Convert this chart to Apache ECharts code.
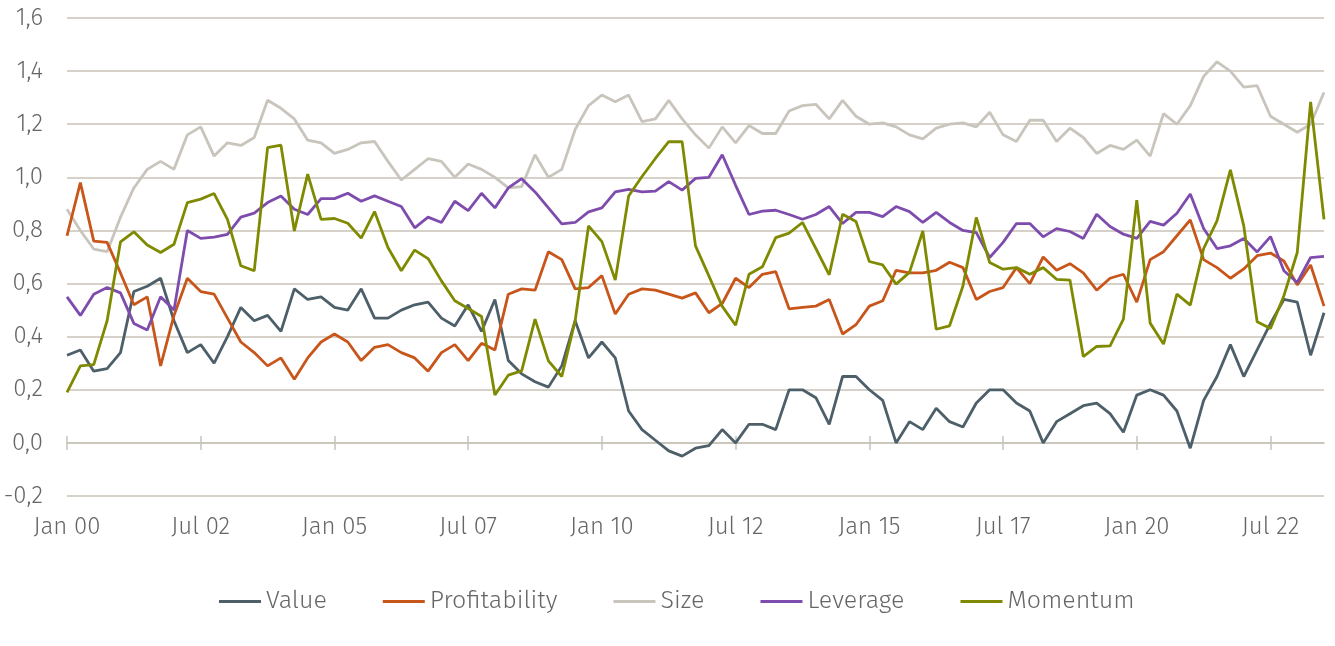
<!DOCTYPE html>
<html>
<head>
<meta charset="utf-8">
<script src="https://cdn.jsdelivr.net/npm/echarts@6/dist/echarts.min.js"></script>
<style>
    html, body { margin: 0; padding: 0; background: #fff; }
    #chart { width: 1335px; height: 646px; }
</style>
</head>
<body>
<div id="chart"></div>
<script>
// quarterly observations, Jan 00 .. Jul 23
const seriesNames = ['Value', 'Profitability', 'Size', 'Leverage', 'Momentum'];
const monthNames = ['Jan', 'Apr', 'Jul', 'Oct'];

const value = [
    0.33, 0.35, 0.27, 0.28, 0.34, 0.57, 0.59, 0.62, 0.46, 0.34,
    0.37, 0.30, 0.40, 0.51, 0.46, 0.48, 0.42, 0.58, 0.54, 0.55,
    0.51, 0.50, 0.58, 0.47, 0.47, 0.50, 0.52, 0.53, 0.47, 0.44,
    0.52, 0.42, 0.54, 0.31, 0.26, 0.23, 0.21, 0.29, 0.46, 0.32,
    0.38, 0.32, 0.12, 0.05, 0.01, -0.03, -0.05, -0.02, -0.01, 0.05,
    0.00, 0.07, 0.07, 0.05, 0.20, 0.20, 0.17, 0.07, 0.25, 0.25,
    0.20, 0.16, 0.00, 0.08, 0.05, 0.13, 0.08, 0.06, 0.15, 0.20,
    0.20, 0.15, 0.12, 0.00, 0.08, 0.11, 0.14, 0.15, 0.11, 0.04,
    0.18, 0.20, 0.18, 0.12, -0.02, 0.16, 0.25, 0.37, 0.25, 0.35,
    0.45, 0.54, 0.53, 0.33, 0.49
];
const profitability = [
    0.78, 0.98, 0.76, 0.755, 0.64, 0.52, 0.55, 0.29, 0.48, 0.62,
    0.57, 0.56, 0.47, 0.38, 0.34, 0.29, 0.32, 0.24, 0.32, 0.38,
    0.41, 0.38, 0.31, 0.36, 0.37, 0.34, 0.32, 0.27, 0.34, 0.37,
    0.31, 0.375, 0.35, 0.56, 0.58, 0.575, 0.72, 0.69, 0.58, 0.585,
    0.63, 0.485, 0.56, 0.58, 0.575, 0.56, 0.545, 0.565, 0.49, 0.525,
    0.62, 0.585, 0.635, 0.645, 0.505, 0.51, 0.515, 0.54, 0.41, 0.445,
    0.515, 0.535, 0.65, 0.64, 0.64, 0.65, 0.68, 0.66, 0.54, 0.57,
    0.585, 0.66, 0.60, 0.70, 0.65, 0.675, 0.64, 0.575, 0.62, 0.635,
    0.53, 0.69, 0.72, 0.78, 0.84, 0.69, 0.66, 0.62, 0.655, 0.705,
    0.715, 0.685, 0.595, 0.67, 0.515
];
const size = [
    0.88, 0.80, 0.73, 0.72, 0.85, 0.96, 1.03, 1.06, 1.03, 1.16,
    1.19, 1.08, 1.13, 1.12, 1.15, 1.29, 1.26, 1.22, 1.14, 1.13,
    1.09, 1.105, 1.13, 1.135, 1.06, 0.99, 1.03, 1.07, 1.06, 1.00,
    1.05, 1.03, 1.00, 0.96, 0.965, 1.085, 1.00, 1.03, 1.18, 1.27,
    1.31, 1.285, 1.31, 1.21, 1.22, 1.29, 1.22, 1.16, 1.11, 1.19,
    1.13, 1.195, 1.165, 1.165, 1.25, 1.27, 1.275, 1.22, 1.29, 1.23,
    1.20, 1.205, 1.19, 1.16, 1.145, 1.185, 1.20, 1.205, 1.19, 1.245,
    1.16, 1.135, 1.215, 1.215, 1.135, 1.185, 1.15, 1.09, 1.12, 1.105,
    1.14, 1.08, 1.24, 1.20, 1.27, 1.38, 1.435, 1.40, 1.34, 1.345,
    1.23, 1.20, 1.17, 1.20, 1.32
];
const leverage = [
    0.55, 0.48, 0.56, 0.585, 0.565, 0.45, 0.425, 0.55, 0.50, 0.80,
    0.77, 0.775, 0.785, 0.85, 0.865, 0.905, 0.93, 0.88, 0.86, 0.92,
    0.92, 0.94, 0.91, 0.93, 0.91, 0.89, 0.81, 0.85, 0.83, 0.91,
    0.875, 0.94, 0.885, 0.96, 0.995, 0.945, 0.885, 0.825, 0.83, 0.87,
    0.885, 0.945, 0.955, 0.945, 0.948, 0.984, 0.952, 0.996, 1.00, 1.085,
    0.97, 0.86, 0.873, 0.876, 0.86, 0.842, 0.86, 0.89, 0.826, 0.868,
    0.868, 0.852, 0.89, 0.871, 0.83, 0.868, 0.83, 0.80, 0.792, 0.698,
    0.755, 0.826, 0.826, 0.776, 0.807, 0.796, 0.77, 0.861, 0.815, 0.786,
    0.77, 0.834, 0.82, 0.865, 0.937, 0.807, 0.732, 0.742, 0.77, 0.719,
    0.777, 0.648, 0.604, 0.698, 0.702
];
const momentum = [
    0.19, 0.29, 0.295, 0.46, 0.757, 0.795, 0.745, 0.717, 0.748, 0.905,
    0.918, 0.939, 0.842, 0.667, 0.648, 1.112, 1.121, 0.798, 1.012, 0.842,
    0.845, 0.827, 0.771, 0.871, 0.736, 0.648, 0.726, 0.694, 0.61, 0.535,
    0.506, 0.476, 0.18, 0.255, 0.271, 0.466, 0.309, 0.25, 0.46, 0.817,
    0.758, 0.613, 0.93, 1.003, 1.071, 1.134, 1.134, 0.742, 0.629, 0.514,
    0.443, 0.635, 0.663, 0.773, 0.79, 0.83, 0.732, 0.633, 0.861, 0.834,
    0.683, 0.67, 0.598, 0.642, 0.798, 0.428, 0.441, 0.591, 0.849, 0.679,
    0.654, 0.66, 0.635, 0.66, 0.616, 0.613, 0.325, 0.363, 0.365, 0.466,
    0.914, 0.451, 0.372, 0.56, 0.519, 0.732, 0.836, 1.028, 0.817, 0.456,
    0.431, 0.554, 0.717, 1.284, 0.842
];
const seriesColors = ['#4d5f69', '#c8561b', '#c9c5bd', '#7d4cad', '#7f8a00'];

const categories = [];
for (let y = 0; y < 24; y++) {
    for (let q = 0; q < 4; q++) {
        if (categories.length < value.length) {
            categories.push(monthNames[q] + ' ' + String(y).padStart(2, '0'));
        }
    }
}

const cGrid = '#c8c3b8';
const cText = '#666666';
const font = 'Fira Sans, Open Sans, sans-serif';
const yMin = -0.2, yMax = 1.6, yStep = 0.2;

const chart = echarts.init(document.getElementById('chart'));
const allData = [value, profitability, size, leverage, momentum];
const gridBox = { left: 67, right: 11, top: 18, bottom: 150, containLabel: false };

chart.setOption({
    animation: false,
    backgroundColor: '#ffffff',
    // second grid is a twin of the first, only used to hang the downward ticks on y = 0
    grid: [gridBox, gridBox],
    legend: {
        top: 584,
        left: 214,
        icon: 'rect',
        itemWidth: 42,
        itemHeight: 3,
        itemGap: 56,
        textStyle: { color: cText, fontSize: 25, fontWeight: 300, fontFamily: font },
        data: seriesNames,
    },
    xAxis: [
        {
            // zero line with ticks pointing up
            type: 'category',
            gridIndex: 0,
            data: categories,
            boundaryGap: false,
            position: 'bottom',
            axisLine: { onZero: true, lineStyle: { color: cGrid, width: 1.5 } },
            axisTick: { inside: true, length: 7, interval: 9, lineStyle: { color: cGrid, width: 1.5 } },
            axisLabel: { show: false },
        },
        {
            // date labels under the plot
            type: 'category',
            gridIndex: 0,
            data: categories,
            boundaryGap: false,
            position: 'bottom',
            axisLine: { show: false, onZero: false },
            axisTick: { show: false },
            axisLabel: { interval: 9, margin: 19, color: cText, fontSize: 24, fontWeight: 300, fontFamily: font },
        },
        {
            // ticks pointing down from the zero line
            type: 'category',
            gridIndex: 1,
            data: categories,
            boundaryGap: false,
            position: 'bottom',
            axisLine: { show: false, onZero: true },
            axisTick: { length: 7, interval: 9, lineStyle: { color: cGrid, width: 1.5 } },
            axisLabel: { show: false },
        },
    ],
    yAxis: [
        {
            type: 'value',
            gridIndex: 0,
            min: yMin,
            max: yMax,
            interval: yStep,
            axisLine: { show: false },
            axisTick: { show: false },
            splitLine: { lineStyle: { color: cGrid, width: 1.5 } },
            axisLabel: {
                margin: 24,
                color: cText,
                fontSize: 24,
                fontWeight: 300,
                fontFamily: font,
                formatter: v => v.toFixed(1).replace('.', ','),
            },
        },
        {
            type: 'value',
            gridIndex: 1,
            min: yMin,
            max: yMax,
            interval: yStep,
            axisLine: { show: false },
            axisTick: { show: false },
            axisLabel: { show: false },
            splitLine: { show: false },
        },
    ],
    series: seriesNames.map((name, k) => ({
        name,
        type: 'line',
        xAxisIndex: 0,
        yAxisIndex: 0,
        data: allData[k],
        symbol: 'none',
        lineStyle: { color: seriesColors[k], width: 2.8 },
        itemStyle: { color: seriesColors[k] },
        z: k === 2 ? 1 : 2 + k,
    })),
});
</script>
</body>
</html>
